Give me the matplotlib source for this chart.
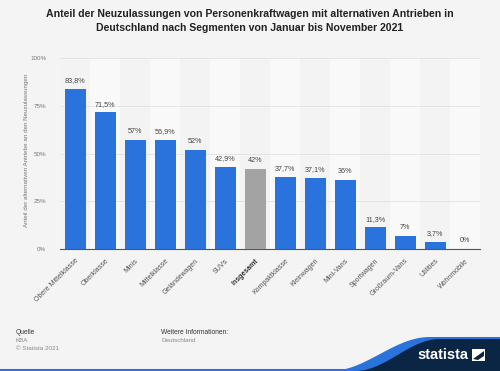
"""Share of new car registrations with alternative drives by segment, Germany 2021."""

import matplotlib.pyplot as plt
from matplotlib.patches import Polygon
import numpy as np

plt.rcParams["font.family"] = ["Liberation Sans", "DejaVu Sans"]

categories = [
    "Obere Mittelklasse", "Oberklasse", "Minis", "Mittelklasse", "Geländewagen",
    "SUVs", "Insgesamt", "Kompaktklasse", "Kleinwagen", "Mini-Vans",
    "Sportwagen", "Großraum-Vans", "Utilities", "Wohnmobile",
]
values = [83.8, 71.5, 57, 56.9, 52, 42.9, 42, 37.7, 37.1, 36, 11.3, 7, 3.7, 0]
value_labels = [
    "83,8%", "71,5%", "57%", "56,9%", "52%", "42,9%", "42%", "37,7%",
    "37,1%", "36%", "11,3%", "7%", "3,7%", "0%",
]
highlight = "Insgesamt"

BG = "#f4f4f4"
BLUE = "#2a72dc"
GREY = "#a3a3a3"
NAVY = "#0b2545"

fig = plt.figure(figsize=(5.0, 3.71), dpi=100, facecolor=BG)
ax = fig.add_axes([60 / 500, 1 - 249 / 371, 420 / 500, 191 / 371])
ax.set_facecolor(BG)

x = np.arange(len(categories))
for i in x:
    ax.axvspan(i - 0.5, i + 0.5, color="#f9f9f9" if i % 2 else "#f3f3f3", lw=0, zorder=0)

colors = [GREY if c == highlight else BLUE for c in categories]
ax.bar(x, values, width=0.7, color=colors, zorder=3)
for xi, v, lab in zip(x, values, value_labels):
    ax.text(xi, v + 2.5, lab, ha="center", va="bottom", fontsize=5.2, color="#444444", zorder=4)

ax.set_xlim(-0.5, len(categories) - 0.5)
ax.set_ylim(0, 100)
ax.set_yticks([0, 25, 50, 75, 100])
ax.set_yticklabels(["0%", "25%", "50%", "75%", "100%"], fontsize=4.5, color="#777777")
ax.yaxis.grid(True, color="#e2e2e2", lw=0.6, zorder=1)
ax.set_xticks(x)
ax.set_xticklabels(categories, rotation=45, ha="right", rotation_mode="anchor",
                   fontsize=5, color="#555555")
for lbl in ax.get_xticklabels():
    if lbl.get_text() == highlight:
        lbl.set_fontweight("bold")
        lbl.set_color("#333333")
ax.tick_params(length=0, pad=6)
ax.tick_params(axis="y", pad=10)
for s in ["top", "right", "left"]:
    ax.spines[s].set_visible(False)
ax.spines["bottom"].set_color("#555555")
ax.spines["bottom"].set_linewidth(0.8)

fig.text(27 / 500, 1 - 150 / 371, "Anteil der alternativen Antriebe an den Neuzulassungen",
         rotation=90, ha="center", va="center", fontsize=4.5, color="#777777")

fig.text(0.5, 1 - 21 / 371,
         "Anteil der Neuzulassungen von Personenkraftwagen mit alternativen Antrieben in\n"
         "Deutschland nach Segmenten von Januar bis November 2021",
         ha="center", va="center", fontsize=7.6, fontweight="bold", color="#222222",
         linespacing=1.45)

# footer
fig.text(16 / 500, 1 - 333 / 371, "Quelle", fontsize=4.8, color="#333333", va="center")
fig.text(16 / 500, 1 - 341 / 371, "KBA", fontsize=4.5, color="#888888", va="center")
fig.text(16 / 500, 1 - 349 / 371, "© Statista 2021", fontsize=4.5, color="#888888", va="center")
fig.text(161 / 500, 1 - 333 / 371, "Weitere Informationen:", fontsize=4.8, color="#333333", va="center")
fig.text(161 / 500, 1 - 341 / 371, "Deutschland", fontsize=4.5, color="#888888", va="center")


def wave(x0, x1, y0, y1, n=60):
    t = np.linspace(0, 1, n)
    xs = x0 + (x1 - x0) * t
    ys = y0 + (y1 - y0) * (0.5 - 0.5 * np.cos(np.pi * t))
    return [(a / 500, 1 - b / 371) for a, b in zip(xs, ys)]


# statista logo: blue sweep under navy band
blue = wave(330, 430, 371, 337) + [(1, 1 - 337 / 371), (1, 0)]
fig.patches.append(Polygon(blue, closed=True, transform=fig.transFigure,
                           facecolor=BLUE, edgecolor="none"))
navy = wave(355, 440, 371, 339) + [(1, 1 - 339 / 371), (1, 0)]
fig.patches.append(Polygon(navy, closed=True, transform=fig.transFigure,
                           facecolor=NAVY, edgecolor="none"))
fig.add_artist(plt.Line2D([0, 0.7], [0.004, 0.004], transform=fig.transFigure,
                          color=BLUE, lw=1.5))
fig.text(468 / 500, 1 - 355 / 371, "statista", ha="right", va="center",
         fontsize=10.5, fontweight="bold", color="white")
fig.patches.append(Polygon([(472 / 500, 1 - 349 / 371), (485 / 500, 1 - 349 / 371),
                            (485 / 500, 1 - 361 / 371), (472 / 500, 1 - 361 / 371)],
                           closed=True, transform=fig.transFigure, facecolor="white"))
fig.patches.append(Polygon([(473 / 500, 1 - 359 / 371), (484 / 500, 1 - 351 / 371),
                            (484 / 500, 1 - 356 / 371), (478 / 500, 1 - 360 / 371)],
                           closed=True, transform=fig.transFigure, facecolor=NAVY))

fig.savefig("out.png", dpi=100, facecolor=BG)
